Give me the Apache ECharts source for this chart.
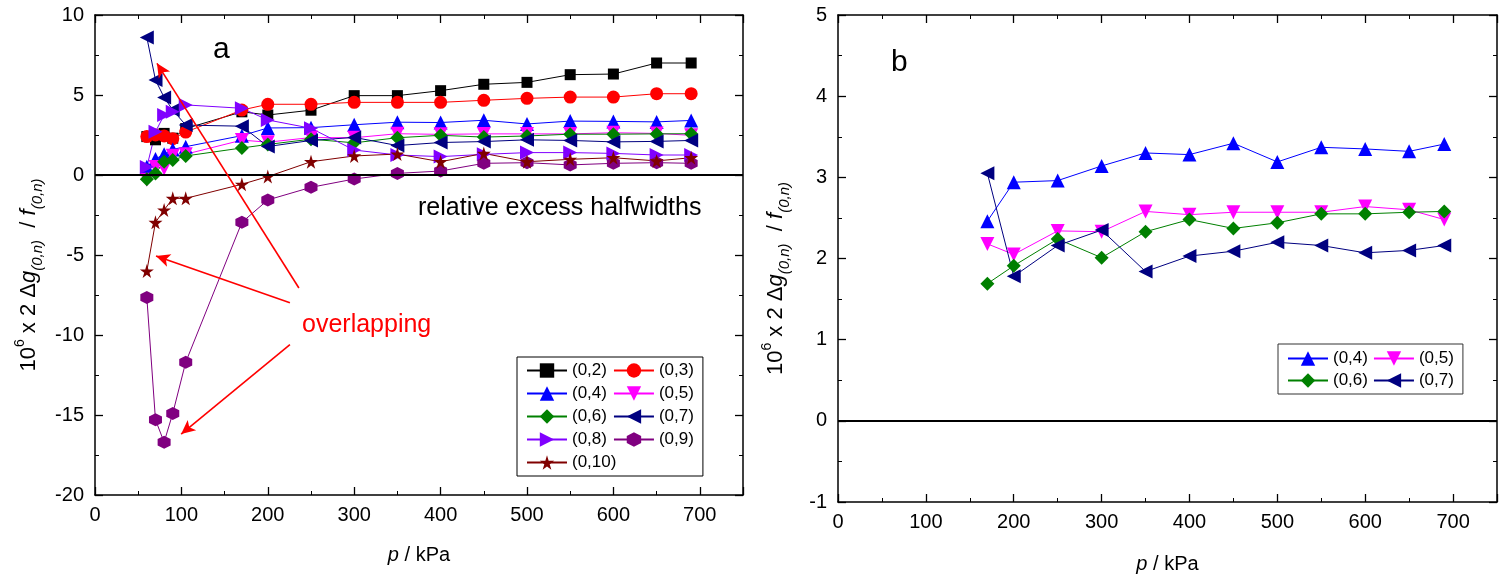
<!DOCTYPE html>
<html>
<head>
<meta charset="utf-8">
<script src="https://cdn.jsdelivr.net/npm/echarts@6/dist/echarts.min.js"></script>
<style>html,body{margin:0;padding:0;background:#fff}#c{width:1509px;height:579px}</style>
</head>
<body>
<div id="c"></div>
<script>
// pressures (kPa)
const pressure = [60, 70, 80, 90, 105, 170, 200, 250, 300, 350, 400, 450, 500, 550, 600, 650, 690];
const rightStart = 5; // panel b starts at 170 kPa
// series values (10^6 x 2 Δg / f)
const s02 = [2.4, 2.2, 2.6, 2.3, 2.9, 3.95, 3.75, 4.05, 4.96, 4.96, 5.27, 5.67, 5.79, 6.27, 6.31, 7.0, 7.0];
const s03 = [2.4, 2.5, 2.44, 2.27, 2.68, 4.06, 4.42, 4.42, 4.54, 4.54, 4.54, 4.67, 4.79, 4.87, 4.87, 5.08, 5.08];
const s04 = [0.52, 1.0, 1.3, 1.6, 1.77, 2.46, 2.94, 2.96, 3.14, 3.30, 3.28, 3.42, 3.19, 3.37, 3.35, 3.32, 3.41];
const s05 = [-0.3, 0.5, 0.4, 1.2, 1.3, 2.18, 2.05, 2.34, 2.33, 2.58, 2.54, 2.57, 2.57, 2.57, 2.64, 2.60, 2.48];
const s06 = [-0.27, 0.1, 0.83, 0.94, 1.19, 1.69, 1.91, 2.24, 2.01, 2.33, 2.48, 2.37, 2.44, 2.55, 2.55, 2.57, 2.58];
const s07 = [8.6, 5.94, 4.85, 4.06, 3.12, 3.05, 1.78, 2.16, 2.35, 1.84, 2.03, 2.09, 2.20, 2.16, 2.07, 2.10, 2.16];
const s08 = [0.5, 2.7, 3.75, 3.96, 4.38, 4.17, 3.44, 2.92, 1.56, 1.25, 1.15, 1.29, 1.4, 1.4, 1.35, 1.25, 1.25];
const s09 = [-7.65, -15.3, -16.7, -14.9, -11.7, -2.96, -1.56, -0.77, -0.25, 0.1, 0.25, 0.73, 0.77, 0.63, 0.73, 0.77, 0.73];
const s010 = [-6.0, -2.96, -2.19, -1.46, -1.46, -0.58, -0.1, 0.83, 1.19, 1.31, 0.83, 1.35, 0.83, 0.98, 1.08, 0.88, 1.08];
// axis ranges
const xRange = {min: 0, max: 750, interval: 100};
const yLeft = {min: -20, max: 10, interval: 5};
const yRight = {min: -1, max: 5, interval: 1};
// annotation arrows (data coords: tail -> head)
const arrows = [[[236, -7.06], [71.7, 6.98]], [[225.6, -7.98], [70.6, -5.06]], [[225.6, -10.6], [99.7, -16.19]]];

const FONT = 'Liberation Sans';
const hexagon = 'path://M50,0 L93,25 L93,75 L50,100 L7,75 L7,25 Z';
const star = 'path://M50,0 L61,35 L98,35 L68,57 L79,91 L50,70 L21,91 L32,57 L2,35 L39,35 Z';

function pairs(vals, start) {
  const out = [];
  for (let i = start; i < pressure.length; i++) out.push([pressure[i], vals[i]]);
  return out;
}
function mk(name, vals, color, symbol, size, rot, grid) {
  return {
    name: name, type: 'line', xAxisIndex: grid * 2, yAxisIndex: grid * 2,
    data: pairs(vals, grid === 0 ? 0 : rightStart),
    symbol: symbol, symbolSize: size, symbolRotate: rot,
    lineStyle: {color: color, width: 1}, itemStyle: {color: color},
    animation: false, z: 3
  };
}
const defs = [
  ['(0,2)', s02, '#000000', 'rect', 11, 0],
  ['(0,3)', s03, '#ff0000', 'circle', 13, 0],
  ['(0,4)', s04, '#0000ff', 'triangle', 14, 0],
  ['(0,5)', s05, '#ff00ff', 'triangle', 14, 180],
  ['(0,6)', s06, '#008000', 'diamond', 14, 0],
  ['(0,7)', s07, '#000080', 'triangle', 14, 90],
  ['(0,8)', s08, '#8000ff', 'triangle', 14, -90],
  ['(0,9)', s09, '#800080', hexagon, 13, 0],
  ['(0,10)', s010, '#800000', star, 14, 0]
];
const series = [];
defs.forEach(d => series.push(mk(d[0], d[1], d[2], d[3], d[4], d[5], 0)));
defs.slice(2, 6).forEach(d => series.push(mk(d[0], d[1], d[2], d[3], d[4], d[5], 1)));

const zeroLine = {silent: true, symbol: 'none', label: {show: false}, lineStyle: {color: '#000', width: 2, type: 'solid'}, data: [{yAxis: 0}], animation: false};
series[0].markLine = JSON.parse(JSON.stringify(zeroLine));
series[9].markLine = JSON.parse(JSON.stringify(zeroLine));
series[1].markLine = {
  silent: true, symbol: ['none', 'arrow'], symbolSize: [10, 14], label: {show: false}, animation: false,
  lineStyle: {color: '#ff0000', width: 1.6, type: 'solid'},
  data: arrows.map(a => [{coord: a[0]}, {coord: a[1]}])
};

function xAxes(grid) {
  const base = {type: 'value', gridIndex: grid, min: xRange.min, max: xRange.max, interval: xRange.interval,
    axisLine: {show: true, onZero: false, lineStyle: {color: '#000', width: 1.5}},
    axisTick: {show: true, inside: true, length: 8, lineStyle: {color: '#000', width: 1.3}},
    minorTick: {show: true, splitNumber: 2, length: 4, lineStyle: {color: '#000', width: 1}},
    splitLine: {show: false}};
  return [
    Object.assign({}, base, {position: 'bottom',
      axisLabel: {fontFamily: FONT, fontSize: 20, color: '#000', margin: 10, showMaxLabel: false},
      name: '{i|p} / kPa', nameLocation: 'middle', nameGap: grid === 0 ? 50 : 52,
      nameTextStyle: {fontFamily: FONT, fontSize: 20, color: '#000',
        rich: {i: {fontFamily: FONT, fontSize: 20, fontStyle: 'italic', color: '#000'}}}}),
    Object.assign({}, base, {position: 'top', axisLabel: {show: false}})
  ];
}
const yName = '10{sup|6} x 2 Δ{i|g}{sub|(0,n)}  / {i|f}{sub|(0,n)}';
const yRich = {
  sup: {fontFamily: FONT, fontSize: 14, color: '#000', verticalAlign: 'top', lineHeight: 32},
  sub: {fontFamily: FONT, fontSize: 15, fontStyle: 'italic', color: '#000', verticalAlign: 'bottom', lineHeight: 32},
  i: {fontFamily: FONT, fontSize: 22, fontStyle: 'italic', color: '#000', lineHeight: 32}
};
function yAxes(grid, r, gap) {
  const base = {type: 'value', gridIndex: grid, min: r.min, max: r.max, interval: r.interval,
    axisLine: {show: true, onZero: false, lineStyle: {color: '#000', width: 1.5}},
    axisTick: {show: true, inside: true, length: 8, lineStyle: {color: '#000', width: 1.3}},
    minorTick: {show: true, splitNumber: 2, length: 4, lineStyle: {color: '#000', width: 1}},
    splitLine: {show: false}};
  return [
    Object.assign({}, base, {position: 'left',
      axisLabel: {fontFamily: FONT, fontSize: 20, color: '#000', margin: 11},
      name: yName, nameLocation: 'middle', nameGap: gap, nameRotate: 90,
      nameTextStyle: {fontFamily: FONT, fontSize: 22, color: '#000', lineHeight: 32, padding: [0, 40, 0, 0], rich: yRich}}),
    Object.assign({}, base, {position: 'right', axisLabel: {show: false}})
  ];
}

const legendBase = {
  orient: 'horizontal', itemGap: 5, itemWidth: 40, itemHeight: 18,
  borderColor: '#000', borderWidth: 1, backgroundColor: '#fff',
  textStyle: {fontFamily: FONT, fontSize: 17, color: '#000'},
  selectedMode: false
};

const option = {
  animation: false,
  backgroundColor: '#fff',
  grid: [
    {left: 95, top: 15, width: 648, height: 480},
    {left: 838, top: 15, width: 659, height: 488}
  ],
  xAxis: xAxes(0).concat(xAxes(1)),
  yAxis: yAxes(0, yLeft, 50).concat(yAxes(1, yRight, 46)),
  legend: [
    Object.assign({}, legendBase, {left: 517, top: 357, width: 172, padding: [5, 9, 5, 9], itemGap: 6,
      data: defs.map(d => d[0])}),
    Object.assign({}, legendBase, {left: 1278, top: 344, width: 178, padding: [6, 9, 5, 9], itemGap: 5,
      borderColor: '#333', data: defs.slice(2, 6).map(d => d[0])})
  ],
  graphic: [
    {type: 'text', left: 213, top: 35, style: {text: 'a', font: '30px "Liberation Sans"', fill: '#000'}},
    {type: 'text', left: 891, top: 48, style: {text: 'b', font: '30px "Liberation Sans"', fill: '#000'}},
    {type: 'text', left: 418, top: 196, style: {text: 'relative excess halfwidths', font: '25px "Liberation Sans"', fill: '#000'}},
    {type: 'text', left: 302, top: 313, style: {text: 'overlapping', font: '25px "Liberation Sans"', fill: '#ff0000'}}
  ],
  series: series
};
const chart = echarts.init(document.getElementById('c'), null, {renderer: 'canvas'});
chart.setOption(option);
</script>
</body>
</html>
